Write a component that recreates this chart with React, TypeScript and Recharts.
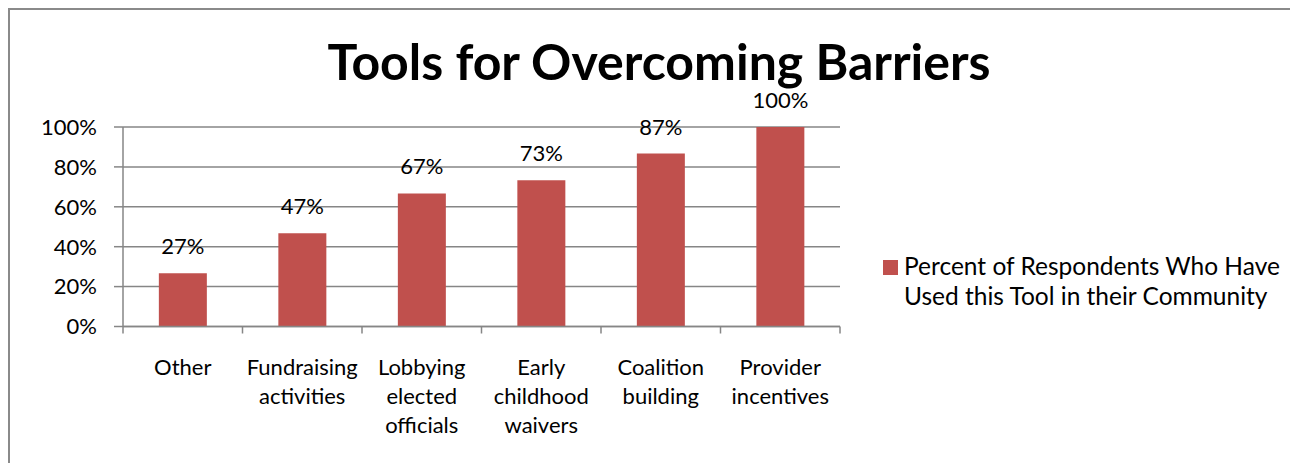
import React from "react";
import { BarChart, Bar, XAxis, YAxis, CartesianGrid, LabelList } from "recharts";

const categories = [
  "Other",
  "Fundraising\nactivities",
  "Lobbying\nelected\nofficials",
  "Early\nchildhood\nwaivers",
  "Coalition\nbuilding",
  "Provider\nincentives",
];
const percentUsed = [26.7, 46.7, 66.7, 73.3, 86.7, 100];
const yTicks = [0, 20, 40, 60, 80, 100];
const seriesName = "Percent of Respondents Who Have Used this Tool in their Community";
const legendLines = ["Percent of Respondents Who Have", "Used this Tool in their Community"];

const data = categories.map((name, i) => ({ name, value: percentUsed[i] }));

const BAR = "#C0504D";
const AXIS = "#868686";
const FONT = "Lato, 'Open Sans', sans-serif";
const FS = 22;

const W = 1288;
const H = 453;
const LEFT = 113;
const RIGHT = 830;
const BAND = (RIGHT - LEFT) / categories.length;

function CategoryTick(props: any) {
  const { x, y, payload, index } = props;
  const lines = String(payload.value).split("\n");
  const half = BAND / 2;
  return (
    <g>
      <line x1={x - half} x2={x - half} y1={y} y2={y + 7} stroke={AXIS} strokeWidth={1.5} />
      {index === categories.length - 1 && (
        <line x1={x + half} x2={x + half} y1={y} y2={y + 7} stroke={AXIS} strokeWidth={1.5} />
      )}
      <text textAnchor="middle" fontSize={FS} fill="#000" fontFamily={FONT}>
        {lines.map((l, i) => (
          <tspan key={i} x={x} y={y + 48 + i * 29}>
            {l}
          </tspan>
        ))}
      </text>
    </g>
  );
}

function LegendBox() {
  return (
    <div
      style={{
        position: "absolute",
        left: 873,
        top: 241,
        display: "flex",
        alignItems: "flex-start",
        fontFamily: FONT,
        fontSize: 24.5,
        color: "#000",
        whiteSpace: "nowrap",
      }}
    >
      <div style={{ width: 15, height: 15, background: BAR, marginTop: 9, marginRight: 6 }} />
      <div style={{ lineHeight: "30px" }} title={seriesName}>
        {legendLines.map((l, i) => (
          <div key={i}>{l}</div>
        ))}
      </div>
    </div>
  );
}

export default function App() {
  return (
    <div
      style={{
        width: 1290,
        height: 455,
        boxSizing: "border-box",
        borderLeft: "2px solid #8a8a8a",
        borderTop: "2px solid #8a8a8a",
        position: "relative",
        background: "#fff",
      }}
    >
      <div
        style={{
          position: "absolute",
          left: 0,
          width: 1298,
          top: 21,
          textAlign: "center",
          fontFamily: FONT,
          fontWeight: 700,
          fontSize: 50,
          lineHeight: "60px",
          color: "#000",
        }}
      >
        Tools for Overcoming Barriers
      </div>
      <BarChart
        width={W}
        height={H}
        data={data}
        margin={{ top: 117, right: W - RIGHT, bottom: 0, left: 0 }}
        barCategoryGap="30%"
      >
        <CartesianGrid horizontal vertical={false} stroke={AXIS} strokeWidth={1.5} />
        <XAxis
          dataKey="name"
          height={136.5}
          axisLine={{ stroke: AXIS, strokeWidth: 1.5 }}
          tickLine={false}
          tickSize={0}
          tickMargin={0}
          interval={0}
          tick={<CategoryTick />}
        />
        <YAxis
          width={LEFT}
          domain={[0, 100]}
          ticks={yTicks}
          interval={0}
          tickFormatter={(v: number) => `${v}%`}
          axisLine={{ stroke: AXIS, strokeWidth: 1.5 }}
          tickLine={{ stroke: AXIS, strokeWidth: 1.5 }}
          tickSize={9}
          tickMargin={17}
          tick={{ fill: "#000", fontSize: FS, fontFamily: FONT }}
        />
        <Bar dataKey="value" name={seriesName} fill={BAR} isAnimationActive={false}>
          <LabelList
            dataKey="value"
            position="top"
            offset={19}
            formatter={(v: any) => `${Math.round(Number(v))}%`}
            style={{ fill: "#000", fontSize: FS, fontFamily: FONT }}
          />
        </Bar>
      </BarChart>
      <LegendBox />
    </div>
  );
}
